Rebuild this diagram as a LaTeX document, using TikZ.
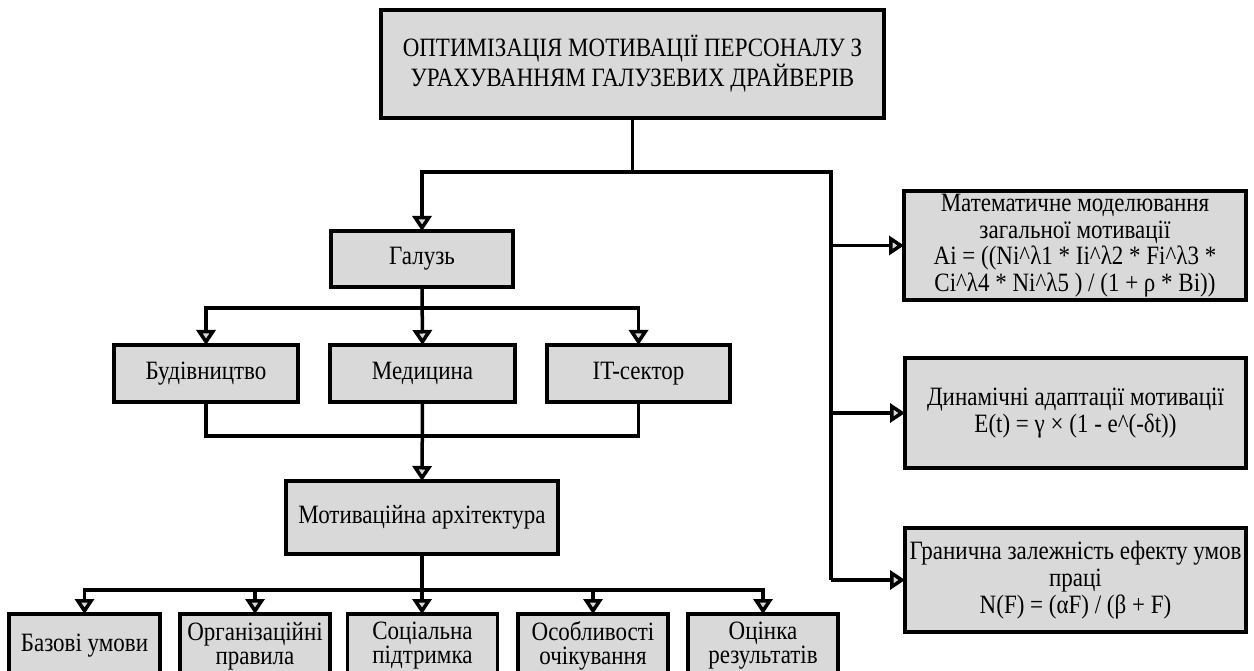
\documentclass[tikz,border=0pt]{standalone}
\usepackage{graphicx}
\usepackage{fontspec}
\setmainfont{Liberation Serif}
\usetikzlibrary{arrows.meta}
\definecolor{boxfill}{HTML}{D9D9D9}
% one line of box text, set slightly taller than the font's natural shape
\newcommand\sline[1]{\scalebox{1}[1.15]{#1}}
\newcommand\boxfont[1]{\fontsize{23}{#1}\selectfont\lineskiplimit=-40pt\relax}
\tikzset{
  box/.style={draw=black, fill=boxfill, line width=3.5pt, rectangle, inner sep=0pt, outer sep=0pt,
    align=center, font=\boxfont{27}},
  link/.style={draw=black, line width=3.5pt, line join=miter},
  arr/.style={link, -{Triangle[fill=boxfill, length=15pt, width=19pt]}},
}
\begin{document}
\begin{tikzpicture}[x=1pt, y=-1pt]
\useasboundingbox (0,0) rectangle (1254,671);
\clip (0,0) rectangle (1254,671);

% title and first level
\node[box, minimum width=503pt, minimum height=108pt, font=\boxfont{30}] (top) at (632.5,64)
  {\sline{ОПТИМІЗАЦІЯ МОТИВАЦІЇ ПЕРСОНАЛУ З}\\\sline{УРАХУВАННЯМ ГАЛУЗЕВИХ ДРАЙВЕРІВ}};
\node[box, minimum width=182pt, minimum height=56pt] (gal) at (422,259) {\sline{Галузь}};

% industries
\node[box, minimum width=184pt, minimum height=57pt] (bud) at (206,373.5) {\sline{Будівництво}};
\node[box, minimum width=185pt, minimum height=57pt] (med) at (422.5,373.5) {\sline{Медицина}};
\node[box, minimum width=183pt, minimum height=57pt] (it) at (638.5,373.5) {\sline{IT-сектор}};

\node[box, minimum width=272pt, minimum height=73pt] (mot) at (422,517.5) {\sline{Мотиваційна архітектура}};

% components of the motivational architecture
\tikzset{part/.style={box, minimum width=150pt, minimum height=64pt, font=\boxfont{24}}}
\node[part, minimum width=151pt] (b1) at (84.5,646) {\sline{Базові умови}};
\node[part] (b2) at (255,646) {\sline{Організаційні}\\\sline{правила}};
\node[part] (b3) at (422.5,646) {\sline{Соціальна}\\\sline{підтримка}};
\node[part] (b4) at (593,646) {\sline{Особливості}\\\sline{очікування}};
\node[part] (b5) at (763,646) {\sline{Оцінка}\\\sline{результатів}};

% models on the right
\node[box, minimum width=342pt, minimum height=109pt, font=\boxfont{26.5}] (math) at (1075,245.5)
  {\sline{Математичне моделювання}\\\sline{загальної мотивації}\\
   \sline{Ai = ((Ni\textasciicircum λ1 * Ii\textasciicircum λ2 * Fi\textasciicircum λ3 *}\\
   \sline{Ci\textasciicircum λ4 * Ni\textasciicircum λ5 ) / (1 + ρ * Bi))}};
\node[box, minimum width=341pt, minimum height=110pt] (dyn) at (1075.5,413)
  {\sline{Динамічні адаптації мотивації}\\\sline{E(t) = γ × (1 - e\textasciicircum(-δt))}};
\node[box, minimum width=341pt, minimum height=104pt, font=\boxfont{27}] (gran) at (1075.5,580)
  {\sline{Гранична залежність ефекту умов}\\\sline{праці}\\\sline{N(F) = (αF) / (β + F)}};

% junction points
\path (top.south) ++(0,54) coordinate (j1);
\coordinate (rv) at (831,172);
\path (gal.south) ++(0,21) coordinate (j2);
\path (med.south) ++(0,34) coordinate (j3);
\path (mot.south) ++(0,36) coordinate (j4);

% connectors
\draw[link] (top.south) -- (j1);
\draw[arr] (j1) -| (gal.north);
\draw[link] (j1) -- (rv) -- (rv |- gran.west);
\draw[arr] (rv |- math.west) -- (math.west);
\draw[arr] (rv |- dyn.west) -- (dyn.west);
\draw[arr] (rv |- gran.west) -- (gran.west);

\draw[arr] (gal.south) -- (med.north);
\draw[arr] (j2) -| (bud.north);
\draw[arr] (j2) -| (it.north);

\draw[link] (bud.south) |- (j3) -| (it.south);
\draw[arr] (med.south) -- (mot.north);

\draw[arr] (mot.south) -- (b3.north -| mot.south);
\draw[arr] (j4) -| (b1.north);
\draw[arr] (j4) -| (b2.north);
\draw[arr] (j4) -| (b4.north);
\draw[arr] (j4) -| (b5.north);
\end{tikzpicture}
\end{document}
